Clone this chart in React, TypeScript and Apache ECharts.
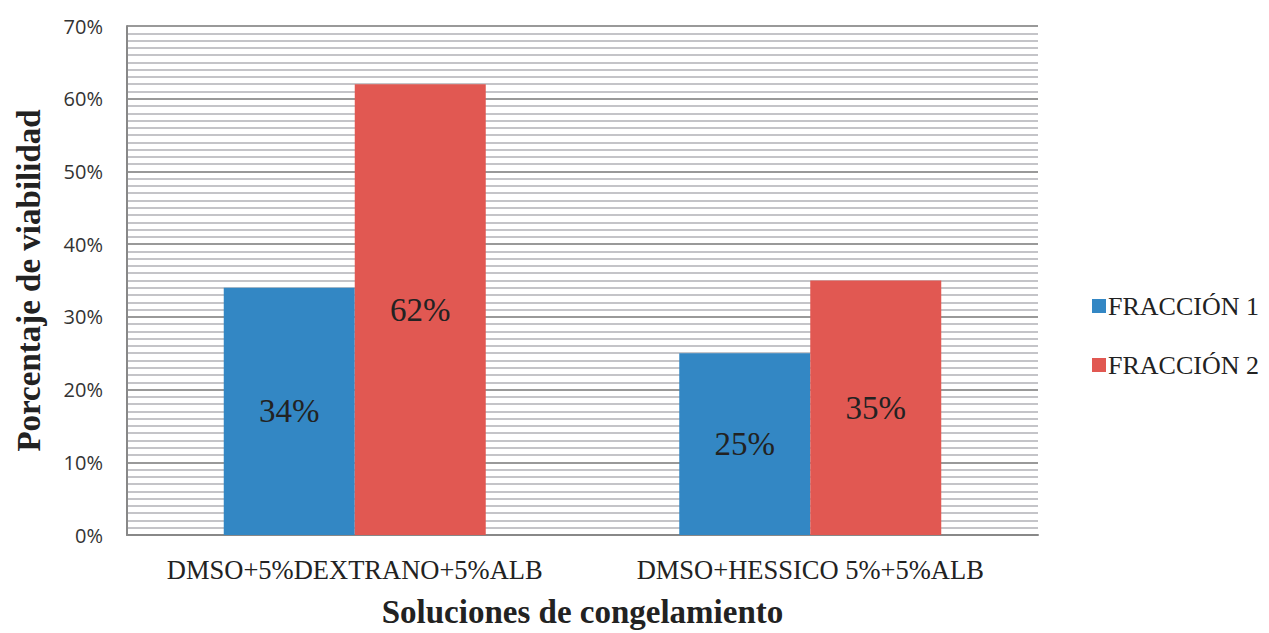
import React, { useEffect, useRef } from "react";
import * as echarts from "echarts";

const categories = ["DMSO+5%DEXTRANO+5%ALB", "DMSO+HESSICO 5%+5%ALB"];
const fraccion1 = [34, 25];
const fraccion2 = [62, 35];
const seriesNames = ["FRACCIÓN 1", "FRACCIÓN 2"];

const SERIF = "'Liberation Serif', 'DejaVu Serif', serif";
const SANS = "'Open Sans', 'Liberation Sans', sans-serif";

export default function App() {
  const ref = useRef<HTMLDivElement>(null);
  useEffect(() => {
    if (!ref.current) return;
    const chart = echarts.init(ref.current, null, { renderer: "svg" });
    const label = {
      show: true,
      position: "inside",
      formatter: "{c}%",
      fontFamily: SERIF,
      fontSize: 33,
      color: "#222",
    };
    chart.setOption({
      animation: false,
      backgroundColor: "#fff",
      grid: { left: 127, right: 231, top: 26, bottom: 95, containLabel: false },
      legend: {
        orient: "vertical",
        left: 1092,
        top: 293,
        padding: 0,
        itemWidth: 14,
        itemHeight: 14,
        itemGap: 33,
        icon: "rect",
        textStyle: { fontFamily: SERIF, fontSize: 26, color: "#222", padding: [0, 0, 0, -3] },
        data: seriesNames,
      },
      xAxis: {
        type: "category",
        data: categories,
        name: "Soluciones de congelamiento",
        nameLocation: "middle",
        nameGap: 60,
        nameTextStyle: { fontFamily: SERIF, fontSize: 33, fontWeight: "bold", color: "#222" },
        axisLine: { show: true, lineStyle: { color: "#888", width: 2 } },
        axisTick: { show: false },
        axisLabel: { interval: 0, fontFamily: SERIF, fontSize: 26.5, color: "#222", margin: 21 },
      },
      yAxis: {
        type: "value",
        min: 0,
        max: 70,
        interval: 10,
        name: "Porcentaje de viabilidad",
        nameLocation: "middle",
        nameGap: 82,
        nameTextStyle: { fontFamily: SERIF, fontSize: 33, fontWeight: "bold", color: "#222" },
        axisLine: { show: true, lineStyle: { color: "#888", width: 2 } },
        axisTick: { show: false },
        axisLabel: { formatter: "{value}%", fontFamily: SANS, fontSize: 20, color: "#333", margin: 24 },
        splitLine: { show: true, lineStyle: { color: "#999", width: 2 } },
        minorTick: { show: false, splitNumber: 10 },
        minorSplitLine: { show: true, lineStyle: { color: "#c4c4c8", width: 2 } },
      },
      series: [
        {
          name: seriesNames[0],
          type: "bar",
          data: fraccion1,
          barWidth: 131,
          barGap: "0%",
          itemStyle: { color: "#3387C4" },
          label,
        },
        {
          name: seriesNames[1],
          type: "bar",
          data: fraccion2,
          barWidth: 131,
          barGap: "0%",
          itemStyle: { color: "#E15852" },
          label,
        },
      ],
    });
    return () => chart.dispose();
  }, []);
  return (
    <div
      ref={ref}
      style={{ position: "absolute", left: 0, top: 0, width: 1269, height: 633 }}
    />
  );
}
